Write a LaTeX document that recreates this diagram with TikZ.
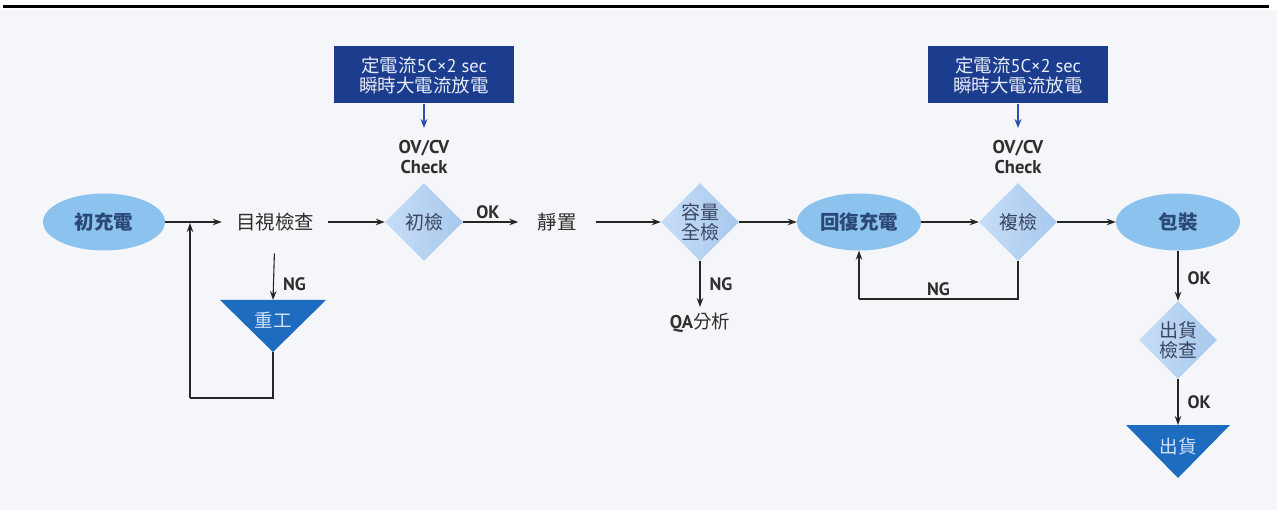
\documentclass[tikz,border=0pt]{standalone}
\usepackage{fontspec}
\setmainfont{PT Sans}
\newfontfamily\cjk{Noto Sans CJK TC}
\usetikzlibrary{shapes.geometric,arrows.meta,calc}
\definecolor{bgc}{HTML}{F5F6F9}
\definecolor{ellc}{HTML}{8CC3EE}
\definecolor{elltxt}{HTML}{2B4877}
\definecolor{diaL}{HTML}{C6DDF6}
\definecolor{diaR}{HTML}{A8C8EE}
\definecolor{diatxt}{HTML}{3A4660}
\definecolor{boxc}{HTML}{1C3C8E}
\definecolor{boxtxt}{HTML}{E6ECF8}
\definecolor{boxarrow}{HTML}{3050B0}
\definecolor{tric}{HTML}{1E6CC0}
\definecolor{tritxt}{HTML}{D2E2F6}
\definecolor{txt}{HTML}{2E2E2E}
\tikzset{
  ell/.style={ellipse, fill=ellc, minimum width=122pt, minimum height=57pt, inner sep=0pt,
    text=elltxt, font=\fontsize{19.5}{21}\selectfont\cjk\bfseries},
  dia/.style={diamond, left color=diaL, right color=diaR, minimum width=78pt, minimum height=78pt,
    inner sep=0pt, text=diatxt, align=center, font=\fontsize{19}{20}\selectfont\cjk},
  plain/.style={inner xsep=14pt, inner ysep=2pt, text=txt, font=\fontsize{19.5}{21}\selectfont\cjk},
  infobox/.style={rectangle, fill=boxc, minimum width=180pt, minimum height=57pt, inner sep=0pt,
    text=boxtxt, align=center, font=\fontsize{18.5}{20}\selectfont},
  ovlabel/.style={align=center, text=txt, inner sep=0pt, font=\fontsize{18.5}{20}\selectfont\bfseries},
  lab/.style={text=txt, inner sep=2pt, font=\fontsize{18}{20}\selectfont\bfseries},
  tritext/.style={text=tritxt, font=\fontsize{18.5}{20}\selectfont\cjk},
  flow/.style={draw=black!85, line width=1.1pt, -{Stealth[length=9pt,width=6.5pt]}},
  link/.style={draw=black!85, line width=1.1pt},
  bluearrow/.style={draw=boxarrow, line width=1.4pt, -{Stealth[length=9pt,width=7pt]}}
}
\begin{document}
\begin{tikzpicture}[x=1pt,y=-1pt]
\useasboundingbox (0,0) rectangle (1277,510);
\fill[white] (0,0) rectangle (1277,510);
\fill[bgc] (0,10) rectangle (1277,510);
\draw[line width=3pt, black] (3,7) -- (1269,7);

% main row
\node[ell] (e1) at (104,222) {初充電};
\node[plain] (t1) at (275,222) {目視檢查};
\node[dia] (d1) at (424,222) {初檢};
\node[plain, inner xsep=19pt] (t2) at (557,222) {靜置};
\node[dia] (d2) at (700,222) {容量\\全檢};
\node[ell, minimum width=124pt] (e2) at (859,222) {回復充電};
\node[dia] (d3) at (1018,222) {複檢};
\node[ell, minimum width=124pt] (e3) at (1178,222) {包裝};
\node[dia] (d4) at (1178,340) {出貨\\檢查};

% info boxes
\node[infobox] (b1) at (424,75) {{\cjk 定電流}5C×2 sec\\{\cjk 瞬時大電流放電}};
\node[infobox] (b2) at (1018,75) {{\cjk 定電流}5C×2 sec\\{\cjk 瞬時大電流放電}};
\node[ovlabel, anchor=north] (ov1) at (424,140) {OV/CV\\Check};
\node[ovlabel, anchor=north] (ov2) at (1018,140) {OV/CV\\Check};

% rework triangle
\fill[tric] (220,300) -- (326,300) -- (273,352) -- cycle;
\coordinate (r1top) at (273,300);
\coordinate (r1tip) at (273,352);
\node[tritext] (r1) at (273,320) {重工};

% ship triangle
\fill[tric] (1126,425) -- (1230,425) -- (1178,478) -- cycle;
\coordinate (s1top) at (1178,425);
\node[tritext] (s1) at (1178,446) {出貨};

% QA
\node[plain, inner ysep=0pt, font=\fontsize{18.5}{20}\selectfont] (qa) at (700,323) {\textbf{QA}{\cjk 分析}};

% connectors
\coordinate (j) at (190,222);
\draw[flow] (e1.east) -- (t1.west);
\draw[flow] (t1.east) -- (d1.west);
\draw[flow] (d1.east) -- node[lab, above=1pt, pos=0.45] (okA) {OK} (t2.west);
\draw[flow] (t2.east) -- (d2.west);
\draw[flow] (d2.east) -- (e2.west);
\draw[flow] (e2.east) -- (d3.west);
\draw[flow] (d3.east) -- (e3.west);

\draw[bluearrow] (b1.south) -- ([yshift=12pt]ov1.north);
\draw[bluearrow] (b2.south) -- ([yshift=12pt]ov2.north);

% rework branch
\draw[flow, shorten <=20pt] (t1.south) -- node[lab, right=7pt, pos=0.76] (ngA) {NG} (r1top);
\coordinate (rb) at (273,398);
\coordinate (lb) at (190,398);
\draw[link] (r1tip) -- (rb) -- (lb);
\draw[flow, shorten >=1pt] (lb) -- (j);

% QA branch
\draw[flow] (d2.south) -- node[lab, right=7pt, pos=0.5] (ngB) {NG} ([yshift=6pt]qa.north);

% recheck NG loop
\coordinate (lr) at (1018,299);
\coordinate (ll) at (859,299);
\draw[link] (d3.south) -- (lr) -- node[lab, above=1pt, pos=0.5] (ngC) {NG} (ll);
\draw[flow] (ll) -- (e2.south);

% packing branch
\draw[flow] (e3.south) -- node[lab, right=7pt, pos=0.55] (okB) {OK} (d4.north);
\draw[flow] (d4.south) -- node[lab, right=7pt, pos=0.5] (okC) {OK} (s1top);
\end{tikzpicture}
\end{document}
